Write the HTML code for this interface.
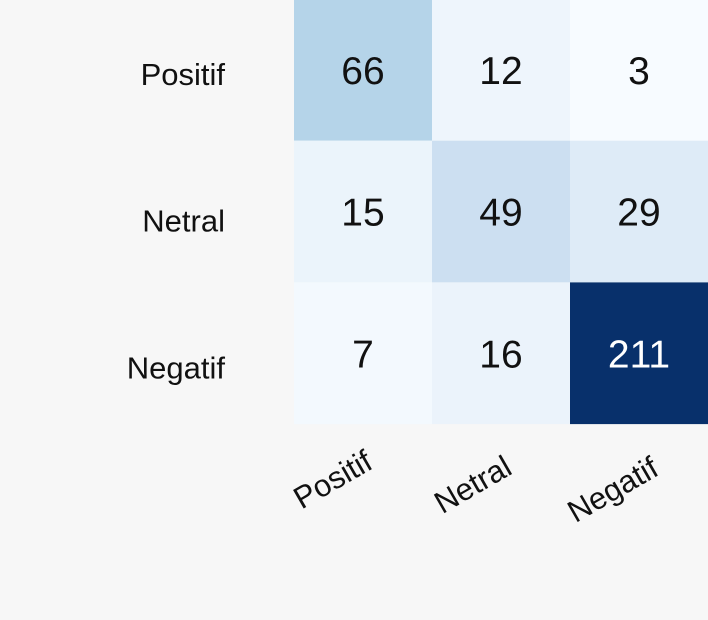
<!DOCTYPE html>
<html><head><meta charset="utf-8"><style>
html,body{margin:0;padding:0;background:#f7f7f7;}
svg{display:block;font-family:"Liberation Sans",sans-serif;}
</style></head><body>
<svg id="chart" width="708" height="620" viewBox="0 0 708 620">
<rect width="708" height="620" fill="#f7f7f7"/>
<g id="cells"></g><g id="ylabels"></g><g id="xlabels"></g>
</svg>
<script>
const categories = ["Positif","Netral","Negatif"];
const row0 = [66,12,3];
const row1 = [15,49,29];
const row2 = [7,16,211];
const values = [row0,row1,row2];
const blues = ["#f7fbff","#deebf7","#c6dbef","#9ecae1","#6baed6","#4292c6","#2171b5","#08519c","#08306b"];
function hex(c){return [1,3,5].map(i=>parseInt(c.substr(i,2),16));}
function color(v,mn,mx){
  let t=(v-mn)/(mx-mn); t=Math.max(0,Math.min(1,t));
  const p=t*(blues.length-1), i=Math.min(Math.floor(p),blues.length-2), f=p-i;
  const a=hex(blues[i]), b=hex(blues[i+1]);
  return "rgb("+a.map((x,k)=>Math.round(x+(b[k]-x)*f)).join(",")+")";
}
const NS="http://www.w3.org/2000/svg";
const x0=294, cw=138, y0=-1, ch=141.7;
const xs=i=>x0+i*cw, ys=j=>y0+j*ch;
const all=values.flat(), mn=Math.min(...all), mx=Math.max(...all);
const cells=document.getElementById("cells");
values.forEach((row,j)=>row.forEach((v,i)=>{
  const r=document.createElementNS(NS,"rect");
  r.setAttribute("x",xs(i));r.setAttribute("y",ys(j));
  r.setAttribute("width",cw);r.setAttribute("height",ch);
  r.setAttribute("fill",color(v,mn,mx));
  
  
  cells.appendChild(r);
  const t=document.createElementNS(NS,"text");
  t.setAttribute("x",xs(i)+cw/2);t.setAttribute("y",ys(j)+ch/2+14);
  t.setAttribute("text-anchor","middle");t.setAttribute("font-size","39");
  t.setAttribute("fill",(v-mn)/(mx-mn)>0.5?"#ffffff":"#111111");
  t.textContent=v;
  
  
  cells.appendChild(t);
}));
const yl=document.getElementById("ylabels");
categories.forEach((c,j)=>{
  const t=document.createElementNS(NS,"text");
  t.setAttribute("x",225);t.setAttribute("y",ys(j)+ch/2+15+j*5);
  t.setAttribute("text-anchor","end");t.setAttribute("font-size","31");t.setAttribute("fill","#111");
  t.textContent=c;
  
  
  yl.appendChild(t);
});
const xl=document.getElementById("xlabels");
categories.forEach((c,i)=>{
  const cx=xs(i)+cw/2-30+i*2, cy=480+i*5;
  const t=document.createElementNS(NS,"text");
  t.setAttribute("x",0);t.setAttribute("y",10);
  t.setAttribute("text-anchor","middle");t.setAttribute("font-size","31");t.setAttribute("fill","#111");
  t.setAttribute("transform","translate("+cx+","+cy+") rotate(-30)");
  t.textContent=c;
  
  
  xl.appendChild(t);
});
</script>
</body></html>
